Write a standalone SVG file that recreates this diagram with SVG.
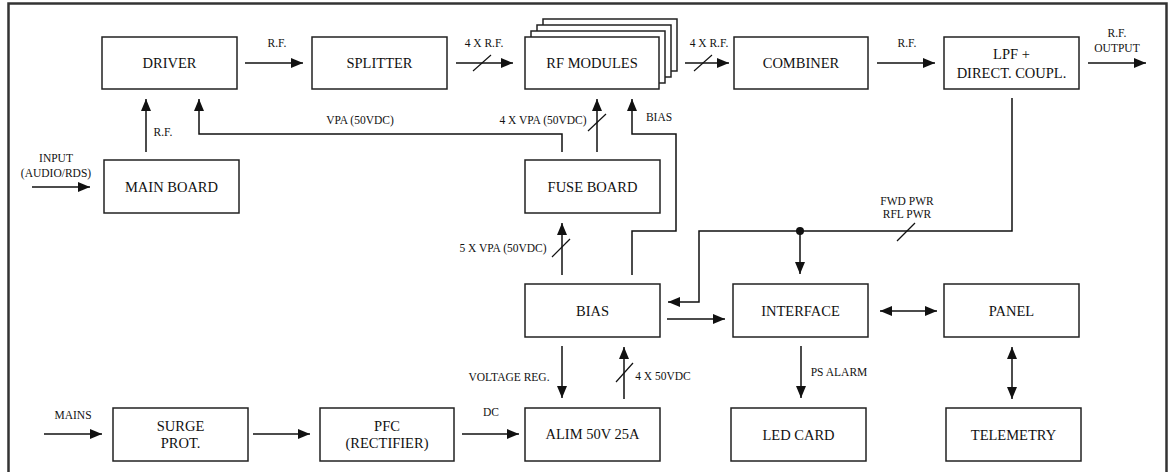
<svg xmlns="http://www.w3.org/2000/svg" width="1172" height="472" viewBox="0 0 1172 472">
<defs>
<marker id="ah" viewBox="0 0 12 10" refX="12" refY="5" markerWidth="12" markerHeight="10" markerUnits="userSpaceOnUse" orient="auto-start-reverse"><path d="M0,0 L12,5 L0,10 z" fill="#111"/></marker>
<style>
.box{fill:#fff;stroke:#222;stroke-width:1.5}
.bt{font-family:'Liberation Serif','Times New Roman',serif;font-size:14.5px;fill:#111;text-anchor:middle;dominant-baseline:central}
.lb{font-family:'Liberation Serif','Times New Roman',serif;font-size:11.5px;fill:#111;text-anchor:middle;dominant-baseline:central}
.ar{fill:none;stroke:#111;stroke-width:1.5;marker-end:url(#ah)}
.bi{fill:none;stroke:#111;stroke-width:1.5;marker-end:url(#ah);marker-start:url(#ah)}
.sl{stroke:#111;stroke-width:1.2}
</style>
</defs>
<rect x="0" y="0" width="1172" height="472" fill="#fff"/>
<rect x="8.5" y="3.5" width="1158" height="475" fill="none" stroke="#333" stroke-width="2.5"/>

<g id="driver"><rect class="box" x="102" y="37" width="135" height="52"/><text class="bt" x="169.5" y="63">DRIVER</text></g>
<g id="splitter"><rect class="box" x="312" y="37" width="135" height="52"/><text class="bt" x="379.5" y="63">SPLITTER</text></g>
<g id="rf-modules">
<rect class="box" x="543" y="19" width="134" height="52"/>
<rect class="box" x="537" y="25" width="134" height="52"/>
<rect class="box" x="531" y="31" width="134" height="52"/>
<rect class="box" x="525" y="37" width="134" height="52"/>
<text class="bt" x="592" y="63">RF MODULES</text></g>
<g id="combiner"><rect class="box" x="734" y="37" width="134" height="52"/><text class="bt" x="801" y="63">COMBINER</text></g>
<g id="lpf"><rect class="box" x="944" y="37" width="135" height="52"/><text class="bt" x="1011.5" y="54">LPF +</text><text class="bt" x="1011.5" y="73">DIRECT. COUPL.</text></g>
<g id="main-board"><rect class="box" x="104" y="160" width="135" height="53"/><text class="bt" x="171.5" y="187">MAIN BOARD</text></g>
<g id="fuse-board"><rect class="box" x="525" y="160" width="135" height="53"/><text class="bt" x="592.5" y="187">FUSE BOARD</text></g>
<g id="bias"><rect class="box" x="525" y="284" width="135" height="53"/><text class="bt" x="592.5" y="311">BIAS</text></g>
<g id="interface"><rect class="box" x="733" y="284" width="135" height="53"/><text class="bt" x="800.5" y="311">INTERFACE</text></g>
<g id="panel"><rect class="box" x="944" y="284" width="135" height="53"/><text class="bt" x="1011.5" y="311">PANEL</text></g>
<g id="surge"><rect class="box" x="113" y="408" width="135" height="53"/><text class="bt" x="180.5" y="426">SURGE</text><text class="bt" x="180.5" y="443">PROT.</text></g>
<g id="pfc"><rect class="box" x="320" y="408" width="134" height="53"/><text class="bt" x="387" y="426">PFC</text><text class="bt" x="387" y="443">(RECTIFIER)</text></g>
<g id="alim"><rect class="box" x="525" y="408" width="135" height="53"/><text class="bt" x="592.5" y="434">ALIM 50V 25A</text></g>
<g id="led-card"><rect class="box" x="731" y="408" width="135" height="53"/><text class="bt" x="798.5" y="435">LED CARD</text></g>
<g id="telemetry"><rect class="box" x="946" y="408" width="135" height="53"/><text class="bt" x="1013.5" y="435">TELEMETRY</text></g>

<g id="connectors">
<line class="ar" x1="245" y1="63" x2="303" y2="63"/>
<text class="lb" x="277" y="43">R.F.</text>
<line class="ar" x1="456" y1="63" x2="513" y2="63"/>
<line class="sl" x1="473" y1="71" x2="491" y2="55"/>
<text class="lb" x="484" y="43">4 X R.F.</text>
<line class="ar" x1="685" y1="63" x2="729" y2="63"/>
<line class="sl" x1="694" y1="71" x2="712" y2="55"/>
<text class="lb" x="709" y="43">4 X R.F.</text>
<line class="ar" x1="877" y1="63" x2="935" y2="63"/>
<text class="lb" x="907" y="43">R.F.</text>
<line class="ar" x1="1088" y1="63" x2="1146" y2="63"/>
<text class="lb" x="1117" y="33">R.F.</text>
<text class="lb" x="1117" y="48">OUTPUT</text>

<line class="ar" x1="146" y1="152" x2="146" y2="99"/>
<text class="lb" x="163" y="132">R.F.</text>
<line class="ar" x1="32" y1="187" x2="90" y2="187"/>
<text class="lb" x="56" y="158">INPUT</text>
<text class="lb" x="56" y="173">(AUDIO/RDS)</text>

<polyline class="ar" points="562,152 562,134 199,134 199,99"/>
<text class="lb" x="360" y="120">VPA (50VDC)</text>
<line class="ar" x1="597" y1="152" x2="597" y2="99"/>
<line class="sl" x1="588" y1="131" x2="606" y2="114"/>
<text class="lb" x="543" y="120">4 X VPA (50VDC)</text>
<polyline class="ar" points="632,275 632,231 676,231 676,134 632,134 632,99"/>
<text class="lb" x="659" y="117">BIAS</text>

<line class="ar" x1="562" y1="275" x2="562" y2="223"/>
<line class="sl" x1="552" y1="257" x2="570" y2="239"/>
<text class="lb" x="503" y="248">5 X VPA (50VDC)</text>

<polyline class="ar" points="1012,98 1012,231 699,231 699,302 668,302"/>
<circle cx="800" cy="231" r="4" fill="#111"/>
<line class="ar" x1="800" y1="231" x2="800" y2="274"/>
<line class="sl" x1="897" y1="241" x2="915" y2="223"/>
<text class="lb" x="907" y="201">FWD PWR</text>
<text class="lb" x="907" y="214">RFL PWR</text>

<line class="ar" x1="667" y1="319" x2="725" y2="319"/>
<line class="bi" x1="880" y1="311" x2="937" y2="311"/>
<line class="ar" x1="562" y1="346" x2="562" y2="398"/>
<text class="lb" x="509" y="377">VOLTAGE REG.</text>
<line class="ar" x1="624" y1="399" x2="624" y2="347"/>
<line class="sl" x1="616" y1="382" x2="633" y2="363"/>
<text class="lb" x="663" y="376">4 X 50VDC</text>
<line class="ar" x1="801" y1="346" x2="801" y2="398"/>
<text class="lb" x="839" y="372">PS ALARM</text>
<line class="bi" x1="1012" y1="347" x2="1012" y2="399"/>

<line class="ar" x1="462" y1="434" x2="519" y2="434"/>
<text class="lb" x="491" y="412">DC</text>
<line class="ar" x1="253" y1="434" x2="310" y2="434"/>
<line class="ar" x1="44" y1="434" x2="102" y2="434"/>
<text class="lb" x="73" y="415">MAINS</text>
</g>
</svg>
